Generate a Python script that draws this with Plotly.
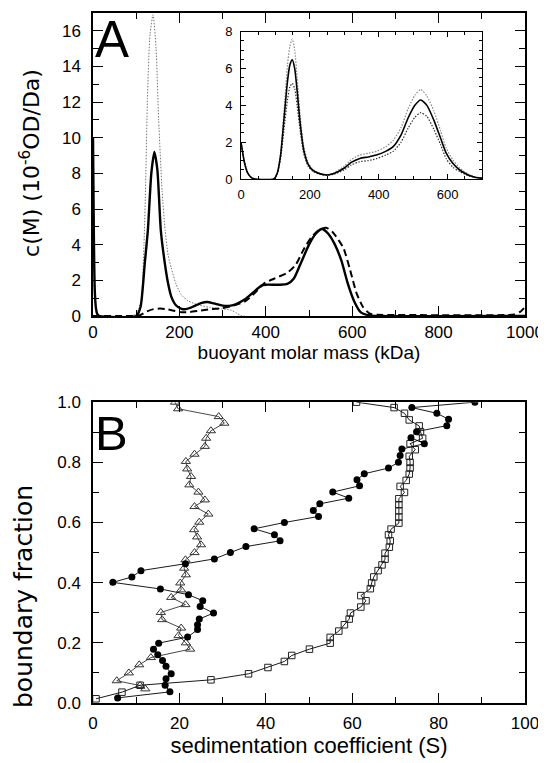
import plotly.graph_objects as go

# ---------------- Panel A: c(M) distributions ----------------
solid_m = [0, 2, 4, 7, 10, 14, 100, 110, 120, 127, 135, 142, 149, 157, 166, 174, 181, 192, 205, 215,
           230, 250, 265, 280, 300, 315, 330, 350, 370, 390, 400, 430, 450, 465, 480, 500, 515, 530,
           545, 560, 575, 590, 605, 620, 640, 660, 1000]
solid_c = [10.0, 4.5, 1.5, 0.4, 0.1, 0.0, 0.0, 0.5, 3.0, 4.8, 8.0, 9.2, 8.2, 4.8, 3.0, 1.8, 1.1, 0.6, 0.4, 0.38,
           0.5, 0.72, 0.78, 0.7, 0.58, 0.56, 0.65, 0.9, 1.3, 1.7, 1.75, 1.75, 1.8, 2.1, 2.9, 4.0, 4.6, 4.88,
           4.6, 4.0, 3.1, 1.8, 0.8, 0.2, 0.03, 0.0, 0.0]

dotted_m = [0, 3, 6, 10, 14, 88, 100, 106, 112, 118, 122, 126, 132, 139, 146, 152, 160, 167, 174, 181,
            192, 204, 220, 243, 270, 297, 320, 333, 345, 1000]
dotted_c = [9.8, 3.0, 0.8, 0.1, 0.0, 0.0, 0.1, 0.4, 0.9, 4.0, 7.5, 12.2, 15.8, 16.9, 15.0, 11.0, 7.0, 4.8, 3.4, 2.7,
            1.8, 1.2, 0.85, 0.62, 0.48, 0.4, 0.32, 0.15, 0.0, 0.0]

dashed_m = [0, 100, 110, 125, 140, 155, 170, 190, 205, 225, 250, 275, 297, 320, 351, 375, 397, 420, 451,
            470, 487, 505, 525, 540, 555, 570, 580, 595, 610, 625, 641, 660, 700, 960, 975, 990, 1000]
dashed_c = [0.0, 0.0, 0.05, 0.25, 0.38, 0.41, 0.38, 0.27, 0.21, 0.22, 0.3, 0.38, 0.43, 0.55, 0.8, 1.3, 1.84, 2.1, 2.44,
            2.9, 3.7, 4.4, 4.85, 4.95, 4.7, 4.2, 3.8, 2.6, 1.28, 0.5, 0.12, 0.06, 0.05, 0.05, 0.08, 0.25, 0.5]

# inset
inset_m = [0, 10, 20, 30, 40, 95, 105, 115, 125, 135, 142, 149, 156, 163, 172, 182, 195, 210, 230, 250, 270,
           300, 320, 345, 370, 393, 420, 442, 465, 485, 505, 522, 540, 560, 580, 596, 615, 635, 660, 680, 700]
inset_mid = [2.0, 0.9, 0.3, 0.08, 0.0, 0.0, 0.3, 1.3, 3.3, 5.3, 6.2, 6.47, 6.0, 4.8, 3.0, 1.6, 0.8, 0.45, 0.28, 0.22, 0.3,
             0.6, 0.9, 1.12, 1.2, 1.3, 1.5, 1.76, 2.4, 3.3, 4.0, 4.29, 4.0, 3.2, 2.2, 1.4, 0.85, 0.49, 0.22, 0.1, 0.05]
inset_up = [2.0, 0.9, 0.3, 0.08, 0.0, 0.0, 0.3, 1.4, 3.7, 6.2, 7.2, 7.6, 7.0, 5.5, 3.4, 1.8, 0.9, 0.5, 0.3, 0.24, 0.34,
            0.7, 1.05, 1.3, 1.4, 1.5, 1.75, 2.1, 2.8, 3.8, 4.55, 4.87, 4.5, 3.7, 2.6, 1.68, 1.05, 0.6, 0.27, 0.12, 0.05]
inset_lo = [2.0, 0.9, 0.3, 0.08, 0.0, 0.0, 0.25, 1.1, 2.7, 4.3, 5.0, 5.2, 4.9, 4.0, 2.6, 1.4, 0.7, 0.4, 0.26, 0.2, 0.26,
            0.5, 0.76, 0.94, 1.0, 1.1, 1.3, 1.5, 2.0, 2.75, 3.35, 3.6, 3.4, 2.7, 1.85, 1.1, 0.65, 0.4, 0.18, 0.08, 0.04]

# ---------------- Panel B: boundary fraction ----------------
tri_s = [12.1, 10.9, 5.5, 8.3, 10.7, 13.4, 22.5, 21.5, 19.8, 20.4, 16.0, 15.7, 21.4, 18.1, 20.4, 20.2, 21.5, 21.1,
         21.4, 23.5, 25.0, 24.1, 23.4, 24.6, 26.7, 23.5, 25.9, 24.4, 22.3, 22.7, 21.8, 21.5, 23.5, 25.9, 26.2, 27.3,
         30.4, 29.1, 19.7, 19.0]
tri_f = [0.047, 0.058, 0.074, 0.100, 0.127, 0.151, 0.179, 0.200, 0.224, 0.249, 0.277, 0.301, 0.327, 0.351, 0.376,
         0.399, 0.426, 0.448, 0.476, 0.500, 0.526, 0.552, 0.576, 0.601, 0.628, 0.653, 0.675, 0.701, 0.725, 0.753,
         0.778, 0.803, 0.827, 0.853, 0.880, 0.905, 0.930, 0.952, 0.978, 1.000]

circ_s = [5.7, 17.8, 16.7, 16.9, 18.1, 16.9, 16.1, 15.0, 14.0, 15.2, 21.9, 24.2, 24.2, 24.6, 27.9, 24.8, 25.4, 22.1,
          15.6, 4.6, 9.0, 11.1, 21.4, 28.1, 31.8, 35.4, 43.3, 42.0, 37.3, 44.3, 52.2, 51.0, 52.5, 59.2, 55.5, 61.7,
          61.1, 62.8, 68.4, 70.7, 71.1, 71.5, 76.7, 73.6, 74.9, 81.9, 82.3, 79.6, 73.8, 88.4]
circ_f = [0.017, 0.037, 0.059, 0.081, 0.097, 0.122, 0.141, 0.160, 0.179, 0.199, 0.219, 0.244, 0.260, 0.279, 0.299,
          0.321, 0.340, 0.360, 0.379, 0.401, 0.419, 0.440, 0.463, 0.479, 0.500, 0.520, 0.539, 0.559, 0.579, 0.600,
          0.620, 0.640, 0.662, 0.681, 0.701, 0.722, 0.742, 0.762, 0.781, 0.800, 0.823, 0.844, 0.862, 0.882, 0.902,
          0.922, 0.943, 0.963, 0.982, 1.000]

sq_s = [0.7, 6.7, 10.9, 27.3, 36.0, 40.5, 44.3, 46.0, 50.1, 54.9, 54.9, 56.9, 58.2, 59.3, 59.6, 62.0, 63.2, 62.0,
        64.2, 64.5, 65.0, 66.0, 66.9, 67.6, 67.6, 68.6, 68.8, 68.4, 69.0, 70.8, 70.8, 70.8, 70.8, 70.8, 72.1, 71.1,
        72.5, 73.2, 73.4, 73.4, 73.2, 74.6, 73.4, 76.3, 75.8, 75.5, 73.2, 72.1, 69.7, 61.0]
sq_f = [0.014, 0.036, 0.059, 0.077, 0.097, 0.118, 0.138, 0.158, 0.179, 0.199, 0.218, 0.239, 0.260, 0.279, 0.299,
        0.319, 0.340, 0.357, 0.380, 0.399, 0.419, 0.440, 0.459, 0.478, 0.498, 0.518, 0.539, 0.559, 0.578, 0.598,
        0.618, 0.639, 0.659, 0.679, 0.700, 0.720, 0.740, 0.761, 0.781, 0.800, 0.820, 0.842, 0.862, 0.880, 0.902,
        0.921, 0.941, 0.963, 0.982, 1.000]

FONT = "Liberation Sans"
WIDE = "DejaVu Sans"
fig = go.Figure()

# Panel A main
fig.add_trace(go.Scatter(x=dotted_m, y=dotted_c, mode="lines", xaxis="x", yaxis="y",
                         line=dict(color="#777777", width=1, dash="1.5px,1.5px", shape="spline", smoothing=0.6)))
fig.add_trace(go.Scatter(x=dashed_m, y=dashed_c, mode="lines", xaxis="x", yaxis="y",
                         line=dict(color="black", width=2, dash="7px,4px", shape="spline", smoothing=0.6)))
fig.add_trace(go.Scatter(x=solid_m, y=solid_c, mode="lines", xaxis="x", yaxis="y",
                         line=dict(color="black", width=2.4, shape="spline", smoothing=0.6)))

# Inset
fig.add_trace(go.Scatter(x=inset_m, y=inset_up, mode="lines", xaxis="x3", yaxis="y3",
                         line=dict(color="#888888", width=1.2, dash="1.5px,1.5px", shape="spline", smoothing=0.6)))
fig.add_trace(go.Scatter(x=inset_m, y=inset_lo, mode="lines", xaxis="x3", yaxis="y3",
                         line=dict(color="#333333", width=1.2, dash="1.5px,1.5px", shape="spline", smoothing=0.6)))
fig.add_trace(go.Scatter(x=inset_m, y=inset_mid, mode="lines", xaxis="x3", yaxis="y3",
                         line=dict(color="black", width=1.6, shape="spline", smoothing=0.6)))

# Panel B
fig.add_trace(go.Scatter(x=tri_s, y=tri_f, mode="lines+markers", xaxis="x2", yaxis="y2",
                         line=dict(color="#333333", width=0.9),
                         marker=dict(symbol="triangle-up-open", size=8, color="#333333", line=dict(width=1))))
fig.add_trace(go.Scatter(x=sq_s, y=sq_f, mode="lines+markers", xaxis="x2", yaxis="y2",
                         line=dict(color="black", width=0.9),
                         marker=dict(symbol="square-open", size=6.5, color="#222222", line=dict(width=1))))
fig.add_trace(go.Scatter(x=circ_s, y=circ_f, mode="lines+markers", xaxis="x2", yaxis="y2",
                         line=dict(color="black", width=0.9),
                         marker=dict(symbol="circle", size=7, color="black")))

tickfont = dict(family=FONT, size=17, color="black")
common = dict(showgrid=False, zeroline=False, showline=True, linecolor="black", linewidth=1.5,
              mirror="allticks", ticks="inside", ticklen=10, tickcolor="black", tickwidth=1.2,
              tickfont=tickfont, autorange=False, automargin=False, ticklabeloverflow="allow")
inset_common = dict(showgrid=False, zeroline=False, showline=True, linecolor="black", linewidth=1,
                    mirror="allticks", ticks="inside", ticklen=5, tickcolor="black",
                    tickfont=dict(family=FONT, size=13), autorange=False, automargin=False)

# page body has an 8 px margin: size and margins compensate for it
fig.update_layout(
    width=538, height=755, showlegend=False,
    paper_bgcolor="white", plot_bgcolor="white",
    margin=dict(l=85, r=21, t=5, b=60, autoexpand=False),
    font=dict(family=FONT, color="black"),
    xaxis=dict(domain=[0, 1], anchor="y", range=[0, 1000], dtick=200, tick0=0,
               minor=dict(dtick=100, ticks="inside", ticklen=6, tickcolor="black"),
               title=dict(text="buoyant molar mass (kDa)", font=dict(family=FONT, size=19), standoff=4),
               ticklabelstandoff=0, **common),
    yaxis=dict(domain=[0.561, 1], anchor="x", range=[0, 17], dtick=2, tick0=0,
               minor=dict(dtick=1, ticks="inside", ticklen=6, tickcolor="black"),
               ticklabelstandoff=7, **common),
    xaxis2=dict(domain=[0, 1], anchor="y2", range=[0, 100], dtick=20, tick0=0,
                minor=dict(dtick=10, ticks="inside", ticklen=6, tickcolor="black"),
                title=dict(text="sedimentation coefficient (S)", font=dict(family=FONT, size=22), standoff=0),
                ticklabelstandoff=4, **common),
    yaxis2=dict(domain=[0, 0.436], anchor="x2", range=[0, 1], dtick=0.2, tick0=0, tickformat=".1f",
                minor=dict(dtick=0.1, ticks="inside", ticklen=6, tickcolor="black"),
                ticklabelstandoff=7, **common),
    xaxis3=dict(domain=[0.3426, 0.9005], anchor="y3", range=[0, 700], dtick=200, tick0=0,
                minor=dict(dtick=50, ticks="inside", ticklen=3, tickcolor="black"),
                ticklabelstandoff=3, **inset_common),
    yaxis3=dict(domain=[0.7594, 0.9729], anchor="x3", range=[0, 8], dtick=2, tick0=0,
                minor=dict(dtick=0.5, ticks="inside", ticklen=3, tickcolor="black"),
                ticklabelstandoff=5, **inset_common),
    annotations=[
        dict(text="c(M) (10<sup>-6</sup>OD/Da)", xref="paper", yref="paper", x=-0.146, y=0.7826,
             xanchor="center", yanchor="middle", textangle=-90, showarrow=False,
             font=dict(family=WIDE, size=22, color="black")),
        dict(text="boundary fraction", xref="paper", yref="paper", x=-0.162, y=0.1536,
             xanchor="center", yanchor="middle", textangle=-90, showarrow=False,
             font=dict(family=WIDE, size=25, color="black")),
        dict(text="A", xref="x domain", yref="y domain", x=0.0, y=1.012, xanchor="left", yanchor="top",
             showarrow=False, font=dict(family=FONT, size=51, color="black")),
        dict(text="B", xref="x2 domain", yref="y2 domain", x=0.0, y=0.993, xanchor="left", yanchor="top",
             showarrow=False, font=dict(family=FONT, size=49, color="black")),
    ],
)

fig.write_html("out.html")
